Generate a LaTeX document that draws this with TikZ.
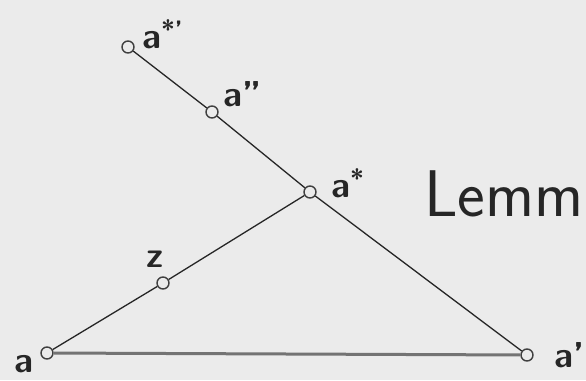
\documentclass[tikz,border=0pt]{standalone}
\begin{document}
\begin{tikzpicture}[x=1pt,y=-1pt,
  pt/.style={draw=black!75,circle,inner sep=0pt,minimum size=12pt,line width=1.4pt},
  lab/.style={anchor=base west,inner sep=0pt,text=black!85,font=\sffamily\bfseries\fontsize{36}{40}\selectfont}]
\fill[black!8] (0,0) rectangle (586,380);
\useasboundingbox (0,0) rectangle (586,380);
\node[pt] (a) at (47,353) {};
\node[pt] (a1) at (527,355) {};
\node[pt] (as1) at (128,47) {};
\node[pt] (a2) at (212,112) {};
\node[pt] (as) at (310,192) {};
\node[pt] (z) at (163,283) {};
\node[lab] (la) at (14,372) {a};
\node[lab] (la1) at (554,367) {a'};
\node[lab] (las1) at (142,48) {a\textsuperscript{*'}};
\node[lab] (la2) at (223,106) {a''};
\node[lab] (las) at (331,197) {a\textsuperscript{*}};
\node[lab] (lz) at (146,267) {z};
\node[anchor=base west,inner sep=0pt,text=black!85,font=\sffamily\fontsize{66}{70}\selectfont] (lemma) at (424,216) {Lemm};
\draw[black!55,line width=3pt] (a) -- (a1);
\draw[black!85,line width=1.3pt] (a) -- (z) -- (as);
\draw[black!85,line width=1.3pt] (as1) -- (a2) -- (as) -- (a1);
\end{tikzpicture}
\end{document}
